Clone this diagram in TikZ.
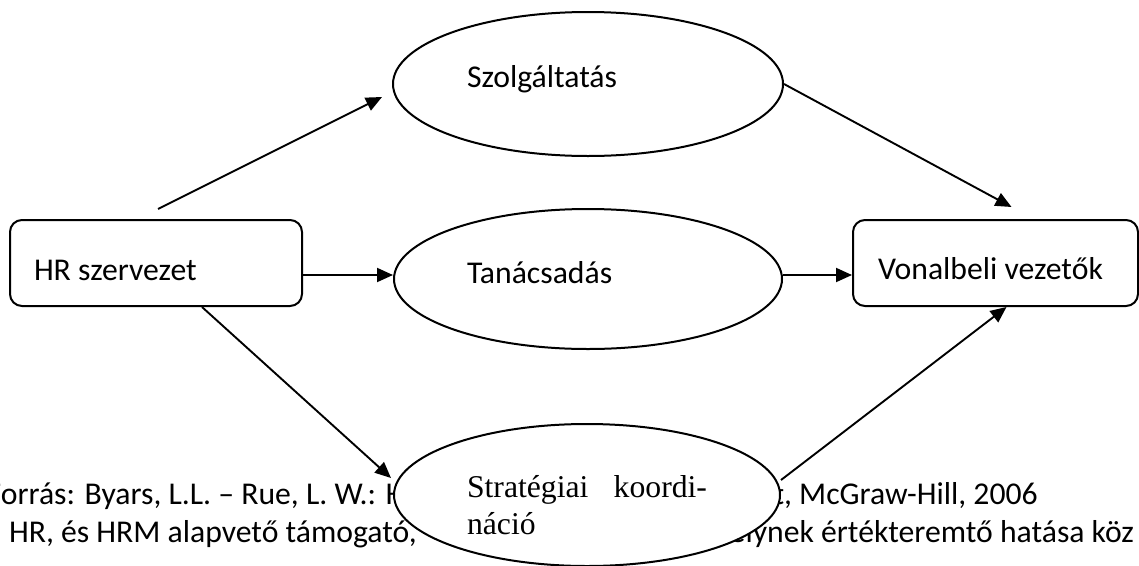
\documentclass[tikz,border=0pt]{standalone}
\usepackage{fontspec}
\setmainfont{Carlito}
\newfontfamily\timesfont{Liberation Serif}
\usetikzlibrary{shapes.geometric,arrows.meta,calc}
\begin{document}
\begin{tikzpicture}[x=1pt,y=-1pt,
  every node/.style={inner sep=0pt},
  body/.style={font=\fontsize{31.7}{38}\selectfont},
  box/.style={body, draw, line width=2pt, rounded corners=12pt,
    minimum height=86pt, align=flush left, text depth=0pt},
  oval/.style={body, draw, ellipse, fill=white, line width=2pt,
    align=flush left, text depth=0pt},
  arr/.style={line width=1.9pt, -{Triangle[length=16pt,width=14pt]}},
  textline/.style={body, anchor=base west}]
\useasboundingbox (0,0) rectangle (1139,565);
\fill[white] (0,0) rectangle (1139,565);
\clip (0,0) rectangle (1139,565);

% source note and caption, partly covered by the lower oval
\node[textline] (src) at (-13.5,504)
  {Forrás: Byars, L.L. – Rue, L. W.: Human Resource Management, McGraw-Hill, 2006};
\node[textline] (capa) at (-13.5,542) {a HR, és HRM alapvető támogató,};
\node[textline] (capb) at (689,542) {amelynek értékteremtő hatása köz};

% the two end boxes
\node[box, inner xsep=24pt, text width=244pt, text height=34pt] (hr)
  at (156,263) {HR szervezet};
\node[box, inner xsep=25pt, text width=235pt, text height=32pt] (vez)
  at (995.5,263) {Vonalbeli vezetők};

% the three roles
\node[oval, minimum width=390pt, minimum height=144pt,
  text width=242pt, text height=6pt] (szol) at (588,84) {Szolgáltatás};
\node[oval, minimum width=388pt, minimum height=140pt,
  text width=242pt, text height=8pt] (tan) at (588,279) {Tanácsadás};
\node[oval, minimum width=386pt, minimum height=142pt, text height=4pt]
  (strat) at (587,495)
  {\parbox[t]{240pt}{\timesfont\fontsize{31.7}{37}\selectfont
   Stratégiai\hfill koordi-\\náció}};

% connectors
\draw[arr] ($(hr.north)+(2,-10)$) -- ($(szol.west)+(-10,13)$);
\draw[arr] (szol.east) -- ($(vez.north)+(16,-12)$);
\draw[arr] ($(hr.east)+(0,12)$) -- ($(tan.west)+(0,-4)$);
\draw[arr] ($(tan.east)+(0,-4)$) -- ($(vez.west)+(0,12)$);
\draw[arr] ($(hr.south)+(46,0)$) -- ($(strat.west)+(-2,-17)$);
\draw[arr] ($(strat.east)+(0,-15)$) -- ($(vez.south)+(11,0)$);
\end{tikzpicture}
\end{document}
